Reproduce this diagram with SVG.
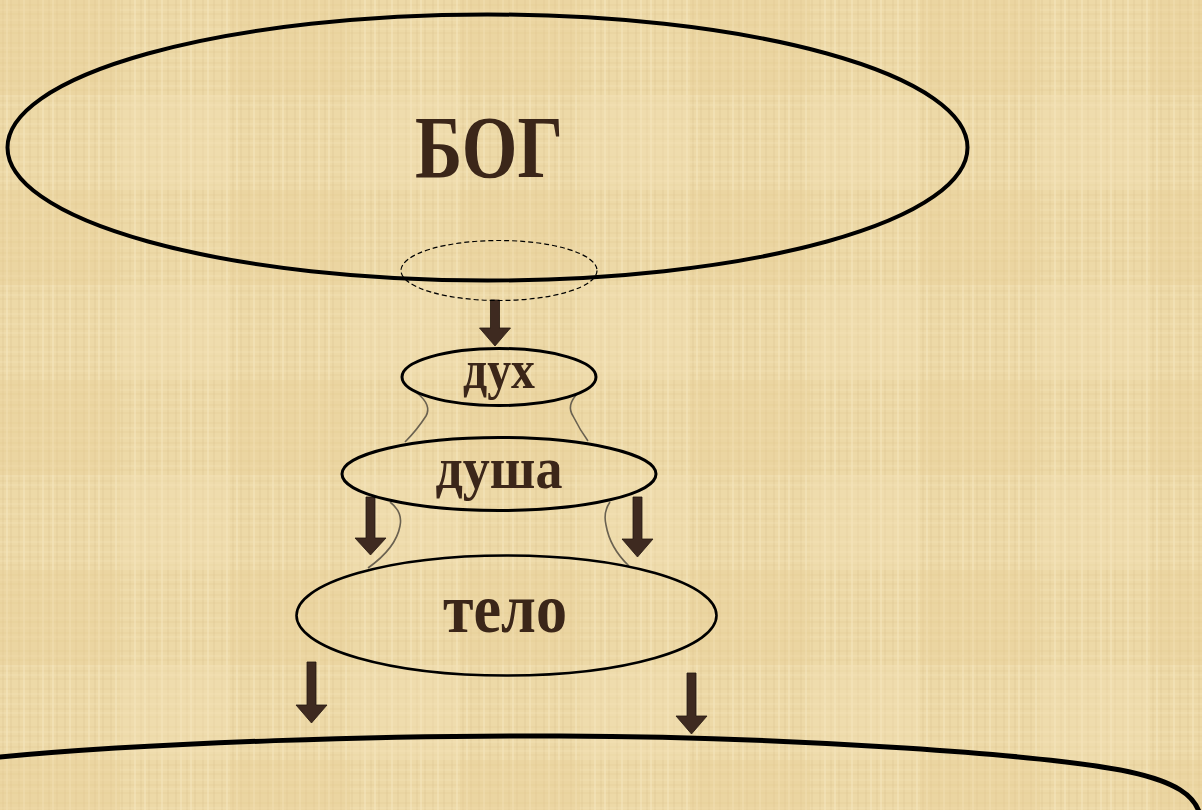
<svg xmlns="http://www.w3.org/2000/svg" width="1202" height="810" viewBox="0 0 1202 810">
<style>
.txt{font-family:"Liberation Serif","DejaVu Serif",serif;font-weight:bold;fill:#3B2619;text-anchor:middle}
.node{fill:none;stroke:#000}
.arrow{fill:#3E2A20;stroke:#24160F;stroke-width:0.8}
.link{fill:none;stroke:#6A6150;stroke-width:1.6}
</style>
<defs>
<pattern id="weave" width="46" height="38" patternUnits="userSpaceOnUse">
<rect width="46" height="38" fill="#EDD9A7"/>
<path d="M3 0V38M11 0V38M19 0V38M30 0V38M38 0V38" stroke="#D2B883" stroke-width="1" opacity="0.35"/>
<path d="M0 5H46M0 14H46M0 25H46M0 33H46" stroke="#D6BD89" stroke-width="1" opacity="0.3"/>
<path d="M7 0V38M24 0V38M43 0V38" stroke="#F7E8C4" stroke-width="1.5" opacity="0.55"/>
<path d="M0 10H46M0 20H46M0 29H46" stroke="#F5E4BC" stroke-width="1.2" opacity="0.45"/>
</pattern>
<pattern id="patch" width="230" height="190" patternUnits="userSpaceOnUse">
<rect x="0" y="0" width="120" height="95" fill="#E6CF95" opacity="0.35"/>
<rect x="120" y="95" width="110" height="95" fill="#F3E2B8" opacity="0.35"/>
</pattern>
</defs>
<rect width="1202" height="810" fill="url(#weave)"/>
<rect width="1202" height="810" fill="url(#patch)"/>

<g id="connectors">
<path class="link" d="M417,393 Q432,405 426,416 Q417,430 405,442"/>
<path class="link" d="M578,393 Q566,405 573,416 Q580,430 588,441"/>
<path class="link" d="M390,502 Q403,512 400,526 Q396,548 368,568"/>
<path class="link" d="M610,502 Q603,512 606,525 Q610,548 629,566"/>
<path class="arrow" d="M490.5,300 H499.5 V328 H510.5 L495,346 L479.5,328 H490.5 Z"/>
<path class="arrow" d="M366,497 H375 V538 H386 L370.5,555 L355,538 H366 Z"/>
<path class="arrow" d="M633,497 H642 V539 H653 L637.5,557 L622,539 H633 Z"/>
<path class="arrow" d="M307,662 H316 V705 H327 L311.5,723 L296,705 H307 Z"/>
<path class="arrow" d="M687,673 H696 V716 H707 L691.5,734 L676,716 H687 Z"/>
</g>

<g id="bog">
<ellipse class="node" cx="487.5" cy="147.5" rx="480" ry="133" stroke-width="4"/>
<text class="txt" x="489" y="177" font-size="88" textLength="148" lengthAdjust="spacingAndGlyphs">БОГ</text>
</g>

<g id="opening">
<ellipse cx="499" cy="270.5" rx="98" ry="30" fill="none" stroke="#000" stroke-width="1.2" stroke-dasharray="5,3"/>
</g>

<g id="dukh">
<ellipse class="node" cx="499" cy="377" rx="97" ry="28.5" stroke-width="3"/>
<text class="txt" x="499" y="388" font-size="54" textLength="72" lengthAdjust="spacingAndGlyphs">дух</text>
</g>

<g id="dusha">
<ellipse class="node" cx="499" cy="474" rx="157" ry="36.5" stroke-width="3"/>
<text class="txt" x="499" y="488" font-size="60" textLength="127" lengthAdjust="spacingAndGlyphs">душа</text>
</g>

<g id="telo">
<ellipse class="node" cx="506.5" cy="615.5" rx="210" ry="60" stroke-width="2.6"/>
<text class="txt" x="505" y="632" font-size="70" textLength="124" lengthAdjust="spacingAndGlyphs">тело</text>
</g>

<g id="world">
<path class="node" stroke-width="5" d="M-10,758 C150,742 400,735 560,736 C800,737 1050,755 1130,772 C1175,782 1195,795 1200,815"/>
</g>
</svg>
